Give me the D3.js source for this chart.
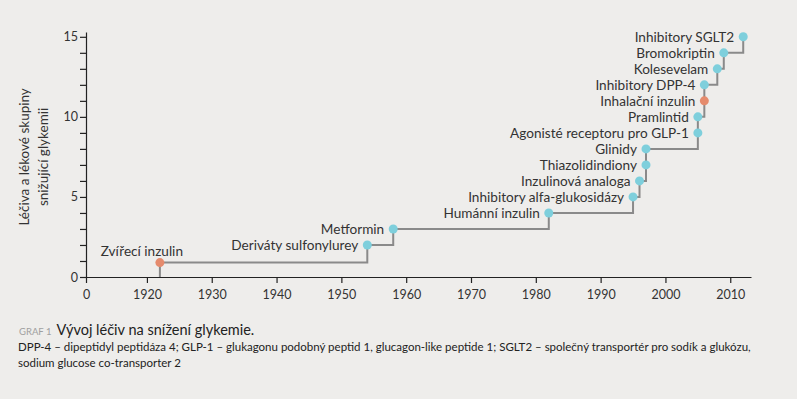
<!DOCTYPE html>
<html>
<head>
<meta charset="utf-8">
<script src="https://cdn.jsdelivr.net/npm/d3@7"></script>
<style>
  body { margin: 0; background: #eeedeb; }
  svg { display: block; font-family: Lato, "Open Sans", sans-serif; }
</style>
</head>
<body>
<script>
// drugs in order of introduction
var names = ["Zvířecí inzulin", "Deriváty sulfonylurey", "Metformin", "Humánní inzulin",
  "Inhibitory alfa-glukosidázy", "Inzulinová analoga", "Thiazolidindiony", "Glinidy",
  "Agonisté receptoru pro GLP-1", "Pramlintid", "Inhalační inzulin", "Inhibitory DPP-4",
  "Kolesevelam", "Bromokriptin", "Inhibitory SGLT2"];
var years = [1922, 1954, 1958, 1982, 1995, 1996, 1997, 1997, 2005, 2005, 2006, 2006, 2008, 2009, 2012];
var counts = [0.9, 2, 3, 4, 5, 6, 7, 8, 9, 10, 11, 12, 13, 14, 15];
var insulin = [true, false, false, false, false, false, false, false, false, false, true, false, false, false, false];

var xTicks = [1910.6, 1920, 1930, 1940, 1950, 1960, 1970, 1980, 1990, 2000, 2010];
var yTicks = [0, 5, 10, 15];

var width = 797, height = 399;
var svg = d3.select("body").append("svg")
  .attr("width", width)
  .attr("height", height);

var x = d3.scaleLinear().domain([1910.6, 2013.2]).range([86, 751]);
var y = d3.scaleLinear().domain([0, 15.3]).range([277, 32]);

/* axes */
var xAxis = svg.append("g")
  .attr("transform", "translate(0," + y(0) + ")")
  .call(d3.axisBottom(x).tickValues(xTicks).tickSize(6).tickSizeOuter(0)
    .tickFormat(function(d) { return d < 1915 ? "0" : d; }));

var yAxis = svg.append("g")
  .attr("transform", "translate(" + x(1910.6) + ",0)")
  .call(d3.axisLeft(y).ticks(15).tickSize(6).tickSizeOuter(0)
    .tickFormat(function(d) { return yTicks.indexOf(d) >= 0 ? d : ""; }));

svg.selectAll(".domain, .tick line").attr("stroke", "#222").attr("stroke-width", 1.2);
svg.selectAll(".tick text").attr("fill", "#333").attr("font-size", 12.5)
  .attr("font-family", "Lato, sans-serif");
xAxis.selectAll(".tick text").attr("dy", "1.05em");
yAxis.selectAll(".tick text").attr("x", -8);

/* y title */
var yt = svg.append("text")
  .attr("transform", "translate(29," + y(7.5) + ") rotate(-90)")
  .attr("text-anchor", "middle")
  .attr("fill", "#333")
  .attr("font-size", 13.5);
yt.append("tspan").attr("x", 0).attr("dy", 0).text("Léčiva a lékové skupiny");
yt.append("tspan").attr("x", 0).attr("dy", 19).text("snižující glykemii");

/* step line */
var pts = years.map(function(d, i) { return [d, counts[i]]; });
pts.unshift([years[0], 0]);
var line = d3.line()
  .x(function(d) { return x(d[0]); })
  .y(function(d) { return y(d[1]); })
  .curve(d3.curveStepAfter);

svg.append("path")
  .datum(pts)
  .attr("fill", "none")
  .attr("stroke", "#8a8a8a")
  .attr("stroke-width", 2)
  .attr("d", line);

/* dots and labels */
var node = svg.append("g").selectAll("g")
  .data(names)
  .enter().append("g")
  .attr("transform", function(d, i) { return "translate(" + x(years[i]) + "," + y(counts[i]) + ")"; });

node.append("circle")
  .attr("r", 4.5)
  .attr("fill", function(d, i) { return insulin[i] ? "#e58b6d" : "#7ecfdc"; });

node.append("text")
  .text(function(d) { return d; })
  .attr("x", function(d, i) { return i == 0 ? -18 : -9; })
  .attr("y", function(d, i) { return i == 0 ? -11 : 0; })
  .attr("dy", "0.35em")
  .attr("text-anchor", function(d, i) { return i == 0 ? "middle" : "end"; })
  .attr("fill", "#333")
  .attr("font-size", 13.6);

/* caption */
var cap = svg.append("text").attr("x", 19).attr("y", 335);
cap.append("tspan").attr("fill", "#a0a0a0").attr("font-size", 9.5).text("GRAF 1");
cap.append("tspan").attr("dx", 5).attr("fill", "#222").attr("font-size", 14.5).text("Vývoj léčiv na snížení glykemie.");

var notes = ["DPP-4 – dipeptidyl peptidáza 4; GLP-1 – glukagonu podobný peptid 1, glucagon-like peptide 1; SGLT2 – společný transportér pro sodík a glukózu,",
  "sodium glucose co-transporter 2"];
svg.append("g").selectAll("text")
  .data(notes)
  .enter().append("text")
  .attr("x", 18)
  .attr("y", function(d, i) { return 351 + i * 16; })
  .attr("fill", "#222")
  .attr("font-size", 11.5)
  .text(function(d) { return d; });
</script>
</body>
</html>
